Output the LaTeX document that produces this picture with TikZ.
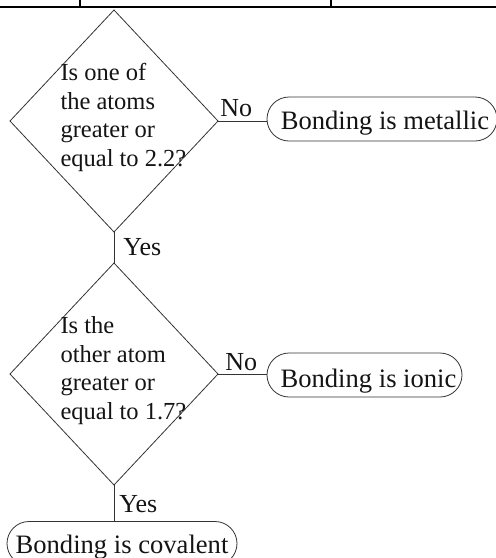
\documentclass[tikz,border=0pt]{standalone}
\usepackage{fontspec}
\setmainfont{Liberation Serif}
\usetikzlibrary{shapes.geometric}
\newcommand\qtextbox[1]{\smash{\rlap{\hspace{-53.5pt}\raisebox{40.3pt}{\parbox[t]{150pt}{\fontsize{24.5}{28.5}\selectfont\raggedright #1}}}}}
\begin{document}
\begin{tikzpicture}[x=1pt,y=-1pt,
  decision/.style={shape=diamond, draw=black!80, line width=0.8pt, inner sep=0pt, outer sep=0pt,
    minimum width=208pt, minimum height=222pt, text=black!92},
  terminal/.style={draw=black!80, line width=0.8pt, rounded corners=22pt, minimum height=44pt,
    inner sep=0pt, outer sep=0pt, font=\fontsize{26.6}{30}\selectfont,
    text height=22pt, text depth=2pt, text=black!92},
  lbl/.style={font=\fontsize{26}{30}\selectfont, inner sep=0pt, text=black!92},
  conn/.style={draw=black!80, line width=0.8pt},
  rule/.style={draw=black, line width=1.7pt},
  vrule/.style={draw=black, line width=1.2pt}]
\useasboundingbox (0,0) rectangle (496,558);
% top table fragment
\coordinate (tl) at (0,7);
\coordinate (tr) at (496,7);
\coordinate (v1t) at (80,0);
\coordinate (v2t) at (331,0);
\draw[rule] (tl) -- (tr);
\draw[vrule] (v1t) -- (v1t |- tl);
\draw[vrule] (v2t) -- (v2t |- tl);
% nodes
\node[decision] (d1) at (114,121) {\qtextbox{Is one of\\ the atoms\\ greater or\\ equal to 2.2?}};
\node[decision] (d2) at (114,374) {\qtextbox{Is the\\ other atom\\ greater or\\ equal to 1.7?}};
\node[terminal, minimum width=230pt] (met) at (382,119) {\hspace{6pt}Bonding is metallic};
\node[terminal, minimum width=195pt, text height=26pt] (ion) at (364.5,375) {\hspace{8pt}Bonding is ionic};
\node[terminal, minimum width=230pt] (cov) at (122,543.5) {Bonding is covalent};
% connectors
\draw[conn] (d1.east) -- (d1.east -| met.west)
  node[lbl, at start, anchor=base west, xshift=2pt, yshift=5pt] {No};
\draw[conn] (d1.south) -- (d2.north)
  node[lbl, at end, anchor=base west, xshift=9pt, yshift=8pt] {Yes};
\draw[conn] (d2.east) -- (d2.east -| ion.west)
  node[lbl, at start, anchor=base west, xshift=7pt, yshift=4pt] {No};
\draw[conn] (d2.south) -- (d2.south |- cov.north)
  node[lbl, at end, anchor=base west, xshift=5pt, yshift=9.5pt] {Yes};
\end{tikzpicture}
\end{document}
